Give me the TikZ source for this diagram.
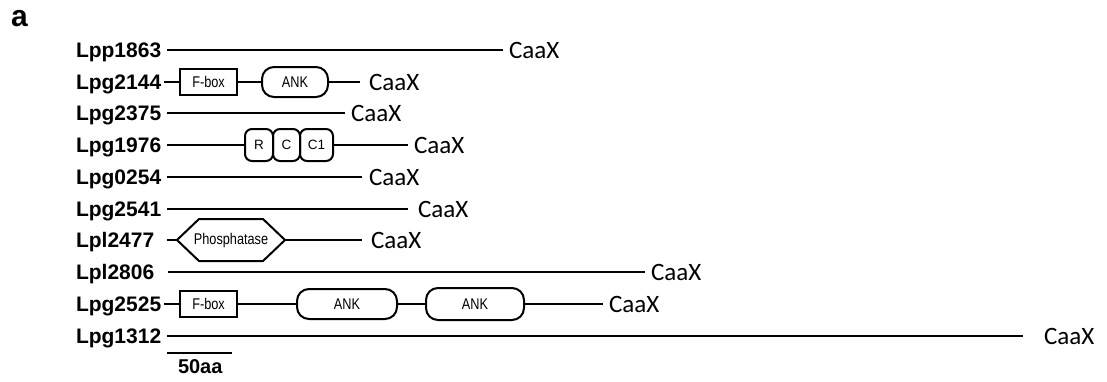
\documentclass[tikz,border=0pt]{standalone}
\usepackage{fontspec}
\usepackage{graphicx}
\setmainfont{Liberation Sans}
\newfontfamily\caaxfont{Carlito}
\newcommand\domtext[1]{\scalebox{0.82}[1]{#1}}

\tikzset{
  protein/.style={font=\fontsize{21}{22}\selectfont\bfseries, anchor=base west, inner sep=0pt},
  motif/.style={font=\caaxfont\fontsize{25}{28}\selectfont, anchor=base west, inner sep=0pt},
  domfont/.style={font=\fontsize{15.5}{16}\selectfont},
  fboxdom/.style={draw, domfont, minimum width=57pt, minimum height=26pt, inner sep=0pt},
  ankdom/.style={draw, domfont, rounded corners=12pt, minimum height=30pt, inner sep=0pt},
  rccdom/.style={draw, font=\fontsize{13.5}{14}\selectfont, rounded corners=7pt, minimum height=32pt, inner sep=0pt},
  hexdom/.style={domfont, minimum width=106pt, minimum height=40pt, inner sep=0pt},
  chain/.style={line width=2.2pt},
}

\begin{document}
\begin{tikzpicture}[x=1pt, y=-1pt, line width=2pt]
  \useasboundingbox (0,0) rectangle (1107,381);

  % panel letter
  \node[font=\fontsize{30}{31}\selectfont\bfseries, anchor=base west, inner sep=0pt] (panel) at (10,26) {a};

  % Lpp1863
  \node[protein] (n1) at (75,57) {Lpp1863};
  \coordinate (s1) at (167,50);
  \coordinate (e1) at (503,50);
  \node[motif] (c1) at (508,58) {CaaX};
  \draw[chain] (s1) -- (e1);

  % Lpg2144
  \node[protein] (n2) at (75,89) {Lpg2144};
  \coordinate (s2) at (164,82);
  \node[fboxdom] (fb2) at (208.5,82) {\domtext{F-box}};
  \node[ankdom, minimum width=66pt] (ank2) at (295,82) {\domtext{ANK}};
  \coordinate (e2) at (360,82);
  \node[motif] (c2) at (368,90) {CaaX};
  \draw[chain] (s2) -- (fb2.west) (fb2.east) -- (ank2.west) (ank2.east) -- (e2);

  % Lpg2375
  \node[protein] (n3) at (75,120) {Lpg2375};
  \coordinate (s3) at (167,113);
  \coordinate (e3) at (345,113);
  \node[motif] (c3) at (350,121) {CaaX};
  \draw[chain] (s3) -- (e3);

  % Lpg1976 with RCC1 repeats
  \node[protein] (n4) at (75,152) {Lpg1976};
  \coordinate (s4) at (167,145);
  \node[rccdom, minimum width=28pt] (r4) at (259,145) {R};
  \node[rccdom, minimum width=27pt] (cc4) at (286.5,145) {C};
  \node[rccdom, minimum width=33pt] (c14) at (316.5,145) {C1};
  \coordinate (e4) at (408,145);
  \node[motif] (c4) at (413,153) {CaaX};
  \draw[chain] (s4) -- (r4.west) (c14.east) -- (e4);

  % Lpg0254
  \node[protein] (n5) at (75,184) {Lpg0254};
  \coordinate (s5) at (167,177);
  \coordinate (e5) at (362,177);
  \node[motif] (c5) at (368,185) {CaaX};
  \draw[chain] (s5) -- (e5);

  % Lpg2541
  \node[protein] (n6) at (75,216) {Lpg2541};
  \coordinate (s6) at (167,209);
  \coordinate (e6) at (408,209);
  \node[motif] (c6) at (417,217) {CaaX};
  \draw[chain] (s6) -- (e6);

  % Lpl2477 with phosphatase domain
  \node[protein] (n7) at (75,247) {Lpl2477};
  \coordinate (s7) at (167,240);
  \node[hexdom] (ph7) at (231,240) {\domtext{Phosphatase}};
  \draw (ph7.west) -- ([xshift=22pt]ph7.north west) -- ([xshift=-22pt]ph7.north east)
        -- (ph7.east) -- ([xshift=-22pt]ph7.south east) -- ([xshift=22pt]ph7.south west) -- cycle;
  \coordinate (e7) at (362,240);
  \node[motif] (c7) at (370,248) {CaaX};
  \draw[chain] (s7) -- (ph7.west) (ph7.east) -- (e7);

  % Lpl2806
  \node[protein] (n8) at (75,279) {Lpl2806};
  \coordinate (s8) at (168,272);
  \coordinate (e8) at (645,272);
  \node[motif] (c8) at (650,280) {CaaX};
  \draw[chain] (s8) -- (e8);

  % Lpg2525
  \node[protein] (n9) at (75,311) {Lpg2525};
  \coordinate (s9) at (164,304);
  \node[fboxdom] (fb9) at (208.5,304) {\domtext{F-box}};
  \node[ankdom, minimum width=100pt] (ank9a) at (347,304) {\domtext{ANK}};
  \node[ankdom, minimum width=98pt, minimum height=32pt] (ank9b) at (475,304) {\domtext{ANK}};
  \coordinate (e9) at (603,304);
  \node[motif] (c9) at (608,312) {CaaX};
  \draw[chain] (s9) -- (fb9.west) (fb9.east) -- (ank9a.west) (ank9a.east) -- (ank9b.west) (ank9b.east) -- (e9);

  % Lpg1312
  \node[protein] (n10) at (75,343) {Lpg1312};
  \coordinate (s10) at (167,336);
  \coordinate (e10) at (1023,336);
  \node[motif] (c10) at (1043,344) {CaaX};
  \draw[chain] (s10) -- (e10);

  % scale bar
  \coordinate (b1) at (167,353);
  \coordinate (b2) at (232,353);
  \draw[chain] (b1) -- (b2);
  \node[font=\fontsize{20}{21}\selectfont\bfseries, anchor=base west, inner sep=0pt] (bar) at (177,373) {50aa};
\end{tikzpicture}
\end{document}
